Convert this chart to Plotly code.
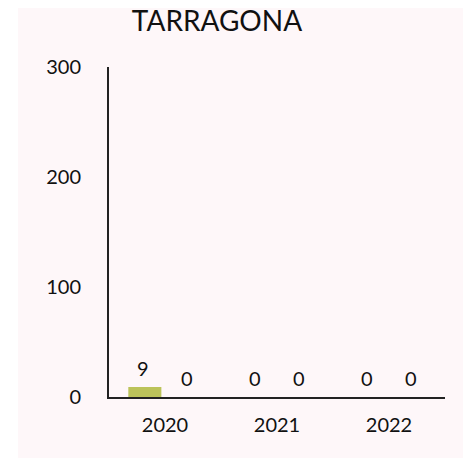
import plotly.graph_objects as go

categories = ["2020", "2021", "2022"]
series_a = [9, 0, 0]
series_b = [0, 0, 0]
series_names = ["Serie A", "Serie B"]
colors = ["#bcc35a", "#8aa0c8"]
y_ticks = [0, 100, 200, 300]

W, H = 471, 458
OFF = 8  # page body margin
L, T = 109 - OFF, 67 - OFF
R = W - (445 - OFF)
B = H - (397 - OFF)
FONT = "Lato, 'Open Sans', sans-serif"
FS = 20

fig = go.Figure()
for name, vals, col in zip(series_names, [series_a, series_b], colors):
    fig.add_trace(go.Bar(x=categories, y=vals, name=name, marker_color=col,
                         marker_line_width=0))

offsets = [-22, 22]
for vals, off in zip([series_a, series_b], offsets):
    for i, v in enumerate(vals):
        fig.add_annotation(x=i, y=v, text=str(v), showarrow=False, xref="x", yref="y",
                           xshift=off, yshift=5, yanchor="bottom",
                           font=dict(family=FONT, size=FS, color="#111"))

pw = W - L - R
fig.add_shape(type="rect", xref="paper", yref="paper",
              x0=(0 - L) / pw - 0.1, x1=(18 - OFF - L) / pw, y0=-1, y1=2,
              fillcolor="white", line_width=0, layer="below")

fig.update_layout(
    width=W, height=H,
    margin=dict(l=L, r=R, t=T, b=B, pad=0),
    paper_bgcolor="#fef7f9", plot_bgcolor="#fef7f9",
    barmode="group", bargap=0.28, bargroupgap=0.18,
    showlegend=False,
    font=dict(family=FONT, size=FS, color="#111"),
    title=dict(text="TARRAGONA", x=(217 - OFF) / W, xanchor="center", xref="container",
               y=1 - (21 - OFF) / H, yanchor="middle", yref="container",
               font=dict(family=FONT, size=28, color="#111")),
    xaxis=dict(type="category", range=[-0.5, 2.5], showline=True, linecolor="#222",
               linewidth=2, showgrid=False,
               ticks="outside", ticklen=9, tickcolor="rgba(0,0,0,0)",
               tickfont=dict(size=FS), zeroline=False),
    yaxis=dict(range=[0, 300], tickvals=y_ticks, showline=True, linecolor="#222",
               linewidth=2, showgrid=False, zeroline=False,
               ticks="outside", ticklen=22, tickcolor="rgba(0,0,0,0)",
               tickfont=dict(size=FS)),
)

fig.write_html("out.html")
